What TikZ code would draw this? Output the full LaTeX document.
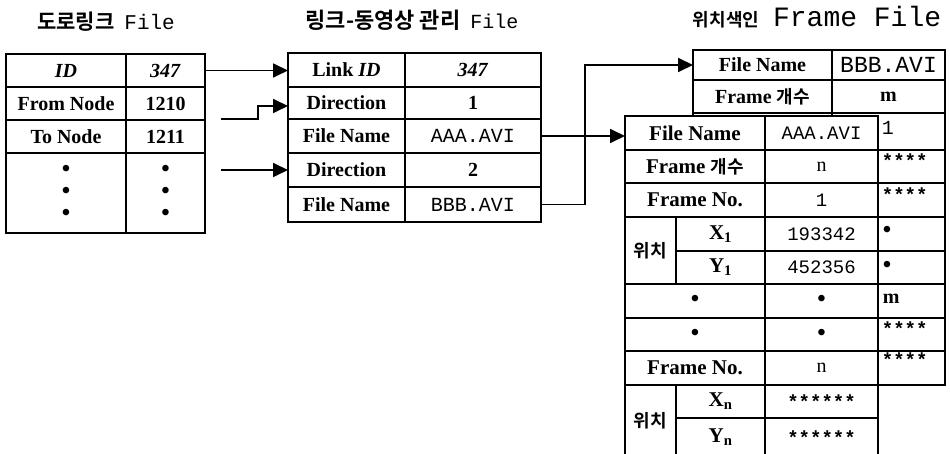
\documentclass[tikz,border=0pt]{standalone}
\usepackage{fontspec}
\setmainfont{Liberation Serif}
\newfontfamily\monof{Liberation Mono}
\newfontfamily\kr{Noto Sans CJK KR}[BoldFont={Noto Sans CJK KR Bold}]
\usetikzlibrary{arrows.meta}
\newcommand\fsz[1]{\fontsize{#1}{#1}\selectfont}
\newcommand\mycell[7][]{\node[cellbox,#1,minimum width={#5-#3},minimum height={#6-#4}] (#2) at ({(#3+#5)/2},{(#4+#6)/2}) {#7};}
\begin{document}
\begin{tikzpicture}[x=1pt,y=-1pt,line width=1.8pt,
  cellbox/.style={draw,inner sep=0pt,outer sep=0pt,font=\bfseries\fsz{20}},
  mono/.style={font=\monof\fsz{20}},
  dots/.style={align=center,font=\bfseries\fontsize{24}{22}\selectfont},
  front/.style={fill=white,font=\bfseries\fsz{21}},
  fmono/.style={font=\monof\fsz{19}},
  fstar/.style={font=\monof\bfseries\fsz{19}},
  fdot/.style={font=\bfseries\fsz{24}},
  ktext/.style={anchor=west,inner sep=0pt},
  title/.style={inner sep=0pt},
  arr/.style={-{Triangle[length=15pt,width=14pt]},line width=1.8pt}]
\useasboundingbox (0,0) rectangle (950,454);
\clip (0,0) rectangle (950,454);
% titles
\node[title] (h1) at (106,22) {{\kr\bfseries\fsz{21}도로링크}\hspace{10pt}{\monof\fsz{21}File}};
\node[title] (h2) at (412,20) {{\kr\bfseries\fsz{22}링크-동영상 관리}\hspace{10pt}{\monof\fsz{20}File}};
\node[title,anchor=west] (h3) at (692,17) {{\kr\bfseries\fsz{18}위치색인}\hspace{14pt}{\monof\fsz{28}Frame File}};
% table 1
\mycell{ta1}{6}{54}{126}{87}{\textit{ID}}
\mycell{tb1}{126}{54}{205}{87}{\textit{347}}
\mycell{ta2}{6}{87}{126}{120}{From Node}
\mycell{tb2}{126}{87}{205}{120}{1210}
\mycell{ta3}{6}{120}{126}{153}{To Node}
\mycell{tb3}{126}{120}{205}{153}{1211}
\mycell[dots]{ta4}{6}{153}{126}{233}{•\\•\\•}
\mycell[dots]{tb4}{126}{153}{205}{233}{•\\•\\•}
% table 2
\mycell{la1}{288}{53}{405}{87}{Link \textit{ID}}
\mycell{lb1}{405}{53}{541}{87}{\textit{347}}
\mycell{la2}{288}{87}{405}{119}{Direction}
\mycell{lb2}{405}{87}{541}{119}{1}
\mycell{la3}{288}{119}{405}{153}{File Name}
\mycell[mono]{lb3}{405}{119}{541}{153}{AAA.AVI}
\mycell{la4}{288}{153}{405}{187}{Direction}
\mycell{lb4}{405}{153}{541}{187}{2}
\mycell{la5}{288}{187}{405}{222}{File Name}
\mycell[mono]{lb5}{405}{187}{541}{222}{BBB.AVI}
% back table
\mycell{ka1}{693}{50}{832}{80}{File Name}
\mycell[font=\monof\fsz{23}]{kb1}{832}{50}{945}{80}{BBB.AVI}
\mycell{ka2}{693}{80}{832}{113}{Frame {\kr\fsz{18}개수}}
\mycell{kb2}{832}{80}{945}{113}{m}
\mycell{kaR}{693}{113}{832}{385}{}
\mycell{kb3}{832}{113}{945}{150}{}
\mycell{kb4}{832}{150}{945}{183}{}
\mycell{kb5}{832}{183}{945}{217}{}
\mycell{kb6}{832}{217}{945}{251}{}
\mycell{kb7}{832}{251}{945}{284}{}
\mycell{kb8}{832}{284}{945}{318}{}
\mycell{kb9}{832}{318}{945}{351}{}
\mycell{kb10}{832}{351}{945}{385}{}
\node[ktext,font=\monof\fsz{20}] (kt3) at (881,128) {1};
\node[ktext,font=\monof\bfseries\fsz{19}] (kt4) at (881,161) {****};
\node[ktext,font=\monof\bfseries\fsz{19}] (kt5) at (881,195) {****};
\node[ktext,font=\bfseries\fsz{24}] (kt6) at (882,232) {•};
\node[ktext,font=\bfseries\fsz{24}] (kt7) at (882,267) {•};
\node[ktext,font=\bfseries\fsz{20}] (kt8) at (882,299) {m};
\node[ktext,font=\monof\bfseries\fsz{19}] (kt9) at (881,329) {****};
\node[ktext,font=\monof\bfseries\fsz{19}] (kt10) at (881,360) {****};
% front table
\mycell[front]{fa1}{625}{116}{765}{150}{File Name}
\mycell[front,fmono]{fb1}{765}{116}{878}{150}{AAA.AVI}
\mycell[front]{fa2}{625}{150}{765}{183}{Frame {\kr\fsz{18}개수}}
\mycell[front,font=\fsz{20}]{fb2}{765}{150}{878}{183}{n}
\mycell[front]{fa3}{625}{183}{765}{217}{Frame No.}
\mycell[front,fmono]{fb3}{765}{183}{878}{217}{1}
\mycell[front,font=\kr\bfseries\fsz{18}]{fw1}{625}{217}{676}{284}{위치}
\mycell[front]{fx1}{676}{217}{765}{251}{X\textsubscript{1}}
\mycell[front,fmono]{fc1}{765}{217}{878}{251}{193342}
\mycell[front]{fy1}{676}{251}{765}{284}{Y\textsubscript{1}}
\mycell[front,fmono]{fc2}{765}{251}{878}{284}{452356}
\mycell[front,fdot]{fa6}{625}{284}{765}{318}{•}
\mycell[front,fdot]{fb6}{765}{284}{878}{318}{•}
\mycell[front,fdot]{fa7}{625}{318}{765}{351}{•}
\mycell[front,fdot]{fb7}{765}{318}{878}{351}{•}
\mycell[front]{fa8}{625}{351}{765}{385}{Frame No.}
\mycell[front,font=\fsz{20}]{fb8}{765}{351}{878}{385}{n}
\mycell[front,font=\kr\bfseries\fsz{18}]{fw2}{625}{385}{676}{457}{위치}
\mycell[front]{fxn}{676}{385}{765}{418}{X\textsubscript{n}}
\mycell[front,fstar]{fc3}{765}{385}{878}{418}{******}
\mycell[front]{fyn}{676}{418}{765}{457}{Y\textsubscript{n}}
\mycell[front,fstar]{fc4}{765}{418}{878}{457}{******}
% connectors
\coordinate (s2) at (221,119);
\coordinate (s3) at (221,170);
\draw[arr] (tb1.east) -- (tb1.east -| la1.west);
\draw[arr] (s2) -- ++(37,0) |- ([yshift=-3pt]la2.west);
\draw[arr] (s3) -- (s3 -| la4.west);
\draw[arr] (lb3.east) -- (lb3.east -| fa1.west);
\draw[arr] (lb5.east) -- ++(44,0) |- (ka1.west);
\end{tikzpicture}
\end{document}
